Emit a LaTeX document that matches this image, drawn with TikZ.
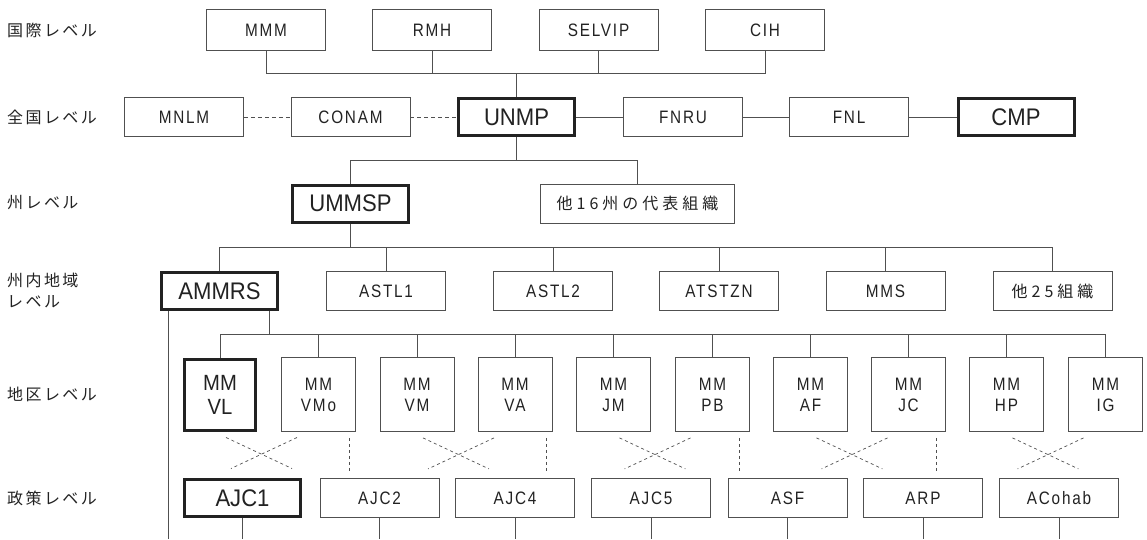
\documentclass[tikz,border=0pt]{standalone}
\usepackage{fontspec}
\setmainfont{Liberation Sans}
\newfontfamily\narrowfont[FakeStretch=0.85,LetterSpace=10]{Liberation Sans}
\newfontfamily\widefont[FakeStretch=0.92]{Liberation Sans}
\newfontfamily\jpfont[LetterSpace=15]{Noto Sans CJK JP}
\newfontfamily\jpboxfont[LetterSpace=25]{Noto Sans CJK JP}
\definecolor{linegray}{HTML}{505050}
\definecolor{inkgray}{HTML}{222222}
\tikzset{
  box/.style={draw=linegray, line width=0.8pt, minimum width=119pt, minimum height=39pt, inner sep=0pt, text=inkgray, font=\narrowfont\fontsize{18}{21}\selectfont},
  mainbox/.style={box, draw=inkgray, line width=3pt, minimum width=116pt, minimum height=37pt, font=\widefont\fontsize{24}{21}\selectfont},
  mmbox/.style={box, minimum width=74pt, minimum height=74pt, align=center},
  mainmm/.style={mainbox, minimum width=71pt, minimum height=71pt, align=center, font=\widefont\fontsize{22}{24}\selectfont},
  jpbox/.style={box, font=\jpboxfont\fontsize{16}{21}\selectfont},
  level/.style={anchor=west, inner sep=0pt, text=inkgray, align=left, font=\jpfont\fontsize{16}{21}\selectfont},
  link/.style={draw=linegray, line width=0.8pt},
  dashlink/.style={link, dash pattern=on 4pt off 3pt},
  crossline/.style={draw=linegray, line width=0.7pt, dash pattern=on 3pt off 3pt}
}
\begin{document}
\begin{tikzpicture}[x=1pt, y=1pt]
            \path[use as bounding box, fill=white] (0,0) rectangle (1147,-539);

            \node[level] (lvintl) at (7,-30) {国際レベル};
            \node[level] (lvnatl) at (7,-117) {全国レベル};
            \node[level] (lvstate) at (7,-203) {州レベル};
            \node[level] (lvregion) at (7,-290) {州内地域\\レベル};
            \node[level] (lvdistrict) at (7,-394) {地区レベル};
            \node[level] (lvpolicy) at (7,-498) {政策レベル};

            \node[box, minimum height=41pt] (MMM) at (266,-30) {MMM};
            \node[box, minimum height=41pt] (RMH) at (432,-30) {RMH};
            \node[box, minimum height=41pt] (SELVIP) at (598.5,-30) {SELVIP};
            \node[box, minimum height=41pt] (CIH) at (765,-30) {CIH};

            \node[box] (MNLM) at (184,-117) {MNLM};
            \node[box] (CONAM) at (350.5,-117) {CONAM};
            \node[mainbox] (UNMP) at (516.5,-117) {UNMP};
            \node[box] (FNRU) at (683,-117) {FNRU};
            \node[box] (FNL) at (849,-117) {FNL};
            \node[mainbox] (CMP) at (1016,-117) {CMP};

            \node[mainbox] (UMMSP) at (350.5,-203.5) {UMMSP};
            \node[jpbox, minimum width=194pt] (others16) at (637.5,-203.5) {他16州の代表組織};

            \node[mainbox] (AMMRS) at (219.5,-291) {AMMRS};
            \node[box] (ASTL1) at (386,-291) {ASTL1};
            \node[box] (ASTL2) at (553,-291) {ASTL2};
            \node[box] (ATSTZN) at (719,-291) {ATSTZN};
            \node[box] (MMS) at (885.5,-291) {MMS};
            \node[jpbox] (others25) at (1052.5,-291) {他25組織};

            \node[mainmm] (VL) at (220,-394.5) {MM\\VL};
            \node[mmbox] (VMo) at (318.5,-394.5) {MM\\VMo};
            \node[mmbox] (VM) at (417,-394.5) {MM\\VM};
            \node[mmbox] (VA) at (515,-394.5) {MM\\VA};
            \node[mmbox] (JM) at (613.5,-394.5) {MM\\JM};
            \node[mmbox] (PB) at (712.5,-394.5) {MM\\PB};
            \node[mmbox] (AF) at (810.5,-394.5) {MM\\AF};
            \node[mmbox] (JC) at (908.5,-394.5) {MM\\JC};
            \node[mmbox] (HP) at (1006.5,-394.5) {MM\\HP};
            \node[mmbox] (IG) at (1105.5,-394.5) {MM\\IG};

            \node[mainbox] (AJC1) at (242.5,-498) {AJC1};
            \node[box] (AJC2) at (379.5,-498) {AJC2};
            \node[box] (AJC4) at (515,-498) {AJC4};
            \node[box] (AJC5) at (651,-498) {AJC5};
            \node[box] (ASF) at (787.5,-498) {ASF};
            \node[box] (ARP) at (923,-498) {ARP};
            \node[box] (ACohab) at (1059,-498) {ACohab};

            \coordinate (intl) at (516.5,-73);
            \coordinate (natl) at (516.5,-160);
            \coordinate (state) at (350.5,-247);
            \coordinate (region) at (269,-334);
            \coordinate (side) at (168,-539);
            \coordinate (bottom) at (0,-539);

            \foreach \n in {MMM,RMH,SELVIP,CIH}
                \draw[link] (\n.south) |- (intl);
            \draw[link] (intl) -- (UNMP.north);

            \draw[dashlink] (MNLM) -- (CONAM);
            \draw[dashlink] (CONAM) -- (UNMP);
            \draw[link] (UNMP) -- (FNRU);
            \draw[link] (FNRU) -- (FNL);
            \draw[link] (FNL) -- (CMP);

            \draw[link] (UNMP.south) -- (natl);
            \draw[link] (natl) -| (UMMSP.north);
            \draw[link] (natl) -| (others16.north);

            \draw[link] (UMMSP.south) -- (state);
            \foreach \n in {AMMRS,ASTL1,ASTL2,ATSTZN,MMS,others25}
                \draw[link] (state) -| (\n.north);

            \draw[link] (region |- AMMRS.south) -- (region);
            \foreach \n in {VL,VMo,VM,VA,JM,PB,AF,JC,HP,IG}
                \draw[link] (region) -| (\n.north);
            \draw[link] (side |- AMMRS.south) -- (side);

            \foreach \n in {VL,VM,JM,AF,HP} {
                \draw[crossline] ([shift={(6,-6)}]\n.south) -- ([shift={(72,-37)}]\n.south);
                \draw[crossline] ([shift={(77,-6)}]\n.south) -- ([shift={(11,-37)}]\n.south);
            }
            \foreach \n/\dx in {VMo/30.5,VA/31,PB/26.5,JC/27.5}
                \draw[crossline] ([shift={(\dx,-6)}]\n.south) -- ([shift={(\dx,-39)}]\n.south);

            \foreach \n in {AJC1,AJC2,AJC4,AJC5,ASF,ARP,ACohab}
                \draw[link] (\n.south) -- (\n.south |- bottom);

        \end{tikzpicture}
\end{document}
